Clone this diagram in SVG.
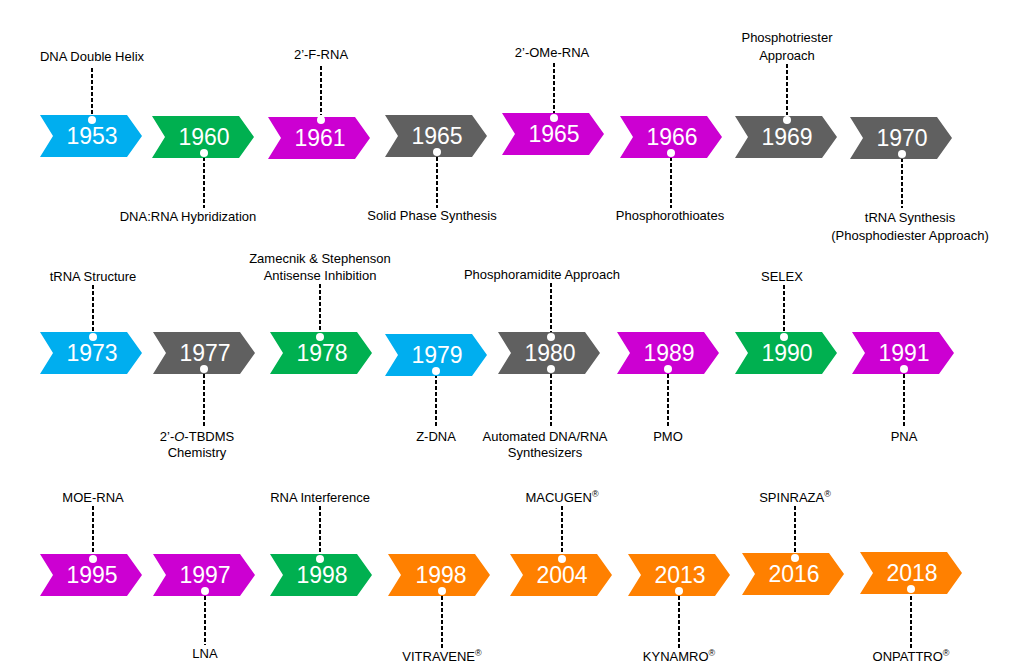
<svg xmlns="http://www.w3.org/2000/svg" width="1011" height="669" viewBox="0 0 1011 669">
<defs>
<style>
.lb{font-family:"Liberation Sans",Arial,sans-serif;font-size:13px;fill:#000;text-anchor:middle}
.yr{font-family:"Liberation Sans",Arial,sans-serif;font-size:23px;fill:#fff;text-anchor:middle}
.d{stroke:#000;stroke-width:2;stroke-dasharray:4,2;fill:none}
.dot{fill:#fff}
.c{fill:#00AEEF}.g{fill:#00B050}.m{fill:#CC00D2}.k{fill:#606060}.o{fill:#FF8000}
.sup{font-size:9px}
</style>
<path id="ch" d="M0,-21 L87,-21 L102,0 L87,21 L0,21 L13,0 Z"/>
</defs>
<rect width="1011" height="669" fill="#fff"/>
<g id="connectors">
<path class="d" d="M92,68V115M204,157V208M321,66V115M437,157V208M554,63V113M671,157V208M787,64V115M902,158V208"/>
<path class="d" d="M93,285V332M204,374V428M320,284V332M436,374V428M551,283V332M551,374V428M668,374V428M784,285V332M904,374V428"/>
<path class="d" d="M93,506V554M205,596V645M320,506V554M442,596V648M562,506V554M679,596V648M795,506V554M911,596V648"/>
</g>
<g id="n1953"><use href="#ch" class="c" x="40" y="136"/><text class="yr" x="92" y="144">1953</text><circle class="dot" cx="92" cy="120" r="4"/><text class="lb" x="92" y="61">DNA Double Helix</text></g>
<g id="n1960"><use href="#ch" class="g" x="152" y="137"/><text class="yr" x="204" y="145">1960</text><circle class="dot" cx="204" cy="153" r="4"/><text class="lb" x="188" y="221">DNA:RNA Hybridization</text></g>
<g id="n1961"><use href="#ch" class="m" x="268" y="138"/><text class="yr" x="320" y="146">1961</text><circle class="dot" cx="321" cy="120" r="4"/><text class="lb" x="321" y="59">2’-F-RNA</text></g>
<g id="n1965a"><use href="#ch" class="k" x="385" y="136"/><text class="yr" x="437" y="144">1965</text><circle class="dot" cx="437" cy="152" r="4"/><text class="lb" x="432" y="220">Solid Phase Synthesis</text></g>
<g id="n1965b"><use href="#ch" class="m" x="502" y="134"/><text class="yr" x="554" y="142">1965</text><circle class="dot" cx="554" cy="118" r="4"/><text class="lb" x="552" y="57">2’-OMe-RNA</text></g>
<g id="n1966"><use href="#ch" class="m" x="620" y="137"/><text class="yr" x="672" y="145">1966</text><circle class="dot" cx="671" cy="153" r="4"/><text class="lb" x="670" y="220">Phosphorothioates</text></g>
<g id="n1969"><use href="#ch" class="k" x="735" y="137"/><text class="yr" x="787" y="145">1969</text><circle class="dot" cx="787" cy="120" r="4"/><text class="lb" x="787" y="42">Phosphotriester</text><text class="lb" x="787" y="60">Approach</text></g>
<g id="n1970"><use href="#ch" class="k" x="850" y="138"/><text class="yr" x="902" y="146">1970</text><circle class="dot" cx="902" cy="154" r="4"/><text class="lb" x="910" y="222">tRNA Synthesis</text><text class="lb" x="910" y="240">(Phosphodiester Approach)</text></g>

<g id="n1973"><use href="#ch" class="c" x="40" y="353"/><text class="yr" x="92" y="361">1973</text><circle class="dot" cx="93" cy="337" r="4"/><text class="lb" x="93" y="281">tRNA Structure</text></g>
<g id="n1977"><use href="#ch" class="k" x="153" y="353"/><text class="yr" x="205" y="361">1977</text><circle class="dot" cx="204" cy="369" r="4"/><text class="lb" x="197" y="441">2’-<tspan font-style="italic">O</tspan>-TBDMS</text><text class="lb" x="197" y="457">Chemistry</text></g>
<g id="n1978"><use href="#ch" class="g" x="270" y="353"/><text class="yr" x="322" y="361">1978</text><circle class="dot" cx="320" cy="337" r="4"/><text class="lb" x="320" y="263">Zamecnik &amp; Stephenson</text><text class="lb" x="320" y="280">Antisense Inhibition</text></g>
<g id="n1979"><use href="#ch" class="c" x="385" y="355"/><text class="yr" x="437" y="363">1979</text><circle class="dot" cx="436" cy="371" r="4"/><text class="lb" x="436" y="441">Z-DNA</text></g>
<g id="n1980"><use href="#ch" class="k" x="498" y="353"/><text class="yr" x="550" y="361">1980</text><circle class="dot" cx="551" cy="337" r="4"/><circle class="dot" cx="551" cy="369" r="4"/><text class="lb" x="542" y="279">Phosphoramidite Approach</text><text class="lb" x="545" y="441">Automated DNA/RNA</text><text class="lb" x="545" y="457">Synthesizers</text></g>
<g id="n1989"><use href="#ch" class="m" x="617" y="353"/><text class="yr" x="669" y="361">1989</text><circle class="dot" cx="668" cy="369" r="4"/><text class="lb" x="668" y="441">PMO</text></g>
<g id="n1990"><use href="#ch" class="g" x="735" y="353"/><text class="yr" x="787" y="361">1990</text><circle class="dot" cx="784" cy="337" r="4"/><text class="lb" x="782" y="281">SELEX</text></g>
<g id="n1991"><use href="#ch" class="m" x="852" y="353"/><text class="yr" x="904" y="361">1991</text><circle class="dot" cx="904" cy="369" r="4"/><text class="lb" x="904" y="441">PNA</text></g>

<g id="n1995"><use href="#ch" class="m" x="40" y="575"/><text class="yr" x="92" y="583">1995</text><circle class="dot" cx="93" cy="559" r="4"/><text class="lb" x="93" y="502">MOE-RNA</text></g>
<g id="n1997"><use href="#ch" class="m" x="153" y="575"/><text class="yr" x="205" y="583">1997</text><circle class="dot" cx="205" cy="591" r="4"/><text class="lb" x="205" y="658">LNA</text></g>
<g id="n1998a"><use href="#ch" class="g" x="270" y="575"/><text class="yr" x="322" y="583">1998</text><circle class="dot" cx="320" cy="559" r="4"/><text class="lb" x="320" y="502">RNA Interference</text></g>
<g id="n1998b"><use href="#ch" class="o" x="388" y="575"/><text class="yr" x="441" y="583">1998</text><circle class="dot" cx="442" cy="591" r="4"/><text class="lb" x="442" y="661">VITRAVENE<tspan class="sup" dy="-5">®</tspan></text></g>
<g id="n2004"><use href="#ch" class="o" x="510" y="575"/><text class="yr" x="562" y="583">2004</text><circle class="dot" cx="562" cy="559" r="4"/><text class="lb" x="562" y="502">MACUGEN<tspan class="sup" dy="-5">®</tspan></text></g>
<g id="n2013"><use href="#ch" class="o" x="628" y="575"/><text class="yr" x="680" y="583">2013</text><circle class="dot" cx="679" cy="591" r="4"/><text class="lb" x="679" y="661">KYNAMRO<tspan class="sup" dy="-5">®</tspan></text></g>
<g id="n2016"><use href="#ch" class="o" x="742" y="574"/><text class="yr" x="794" y="582">2016</text><circle class="dot" cx="795" cy="558" r="4"/><text class="lb" x="795" y="502">SPINRAZA<tspan class="sup" dy="-5">®</tspan></text></g>
<g id="n2018"><use href="#ch" class="o" x="860" y="573"/><text class="yr" x="912" y="581">2018</text><circle class="dot" cx="911" cy="589" r="4"/><text class="lb" x="911" y="661">ONPATTRO<tspan class="sup" dy="-5">®</tspan></text></g>
</svg>
